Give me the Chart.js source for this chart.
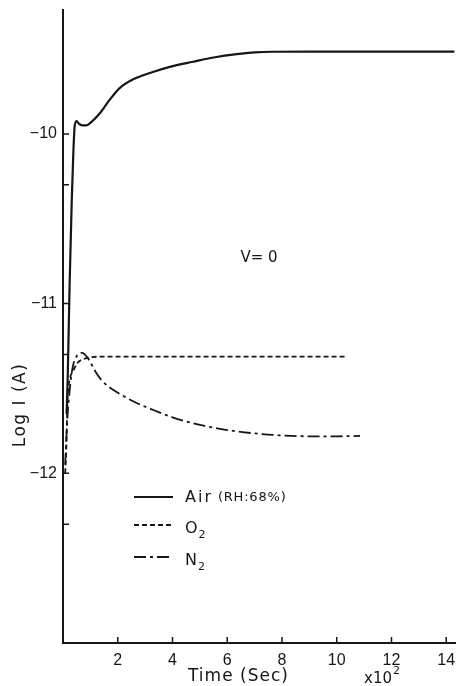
<!DOCTYPE html>
<html>
<head>
<meta charset="utf-8">
<script src="https://cdn.jsdelivr.net/npm/chart.js@4.4.0/dist/chart.umd.min.js"></script>
<style>
  html, body { margin: 0; padding: 0; background: #fff; }
  #wrap { width: 457px; height: 686px; }
</style>
</head>
<body>
<div id="wrap"><canvas id="logChart" width="457" height="686"></canvas></div>
<script>
// time in units of 10^2 sec, current as log10 I (A)
const airTime = [0.13, 0.17, 0.24, 0.32, 0.38, 0.43, 0.5, 0.58, 0.7, 0.85, 1.0, 1.34, 1.7, 2.07, 2.55, 3.2, 3.9, 4.75, 5.5, 6.35, 7.0, 7.67, 9.0, 11.0, 13.0, 14.3];
const airLog = [-11.65, -11.45, -10.9, -10.39, -10.1, -9.95, -9.925, -9.94, -9.95, -9.95, -9.935, -9.88, -9.8, -9.73, -9.68, -9.64, -9.605, -9.575, -9.55, -9.53, -9.52, -9.516, -9.515, -9.515, -9.515, -9.515];

const o2Time = [0.08, 0.12, 0.17, 0.24, 0.36, 0.53, 0.9, 1.3, 3.0, 6.0, 10.3];
const o2Log = [-12.0, -11.85, -11.55, -11.45, -11.4, -11.35, -11.32, -11.313, -11.312, -11.312, -11.312];

const n2Time = [0.08, 0.15, 0.25, 0.36, 0.5, 0.7, 0.88, 1.05, 1.2, 1.4, 1.63, 1.9, 2.15, 2.75, 3.35, 4.0, 5.0, 6.0, 7.0, 7.9, 9.0, 10.0, 10.85];
const n2Log = [-11.95, -11.7, -11.5, -11.37, -11.31, -11.29, -11.315, -11.36, -11.405, -11.45, -11.485, -11.515, -11.54, -11.59, -11.63, -11.67, -11.715, -11.745, -11.765, -11.776, -11.782, -11.782, -11.78];

const xTicks = [2, 4, 6, 8, 10, 12, 14];
const yTicks = [-12.3, -12, -11.3, -11, -10.3, -10];

const ink = "#161616";
const ctx = document.getElementById("logChart").getContext("2d");

function toPoints(xs, ys) {
  return xs.map((x, i) => ({ x: x, y: ys[i] }));
}

// inward tick marks, axis titles, legend and the V=0 note
const annotate = {
  id: "annotate",
  afterDraw(chart) {
    const c = chart.ctx;
    const xs = chart.scales.x;
    const ys = chart.scales.y;
    const area = chart.chartArea;
    c.save();
    c.strokeStyle = ink;
    c.fillStyle = ink;
    c.lineWidth = 1.5;
    c.beginPath();
    yTicks.forEach((v) => {
      const py = ys.getPixelForValue(v);
      c.moveTo(area.left, py);
      c.lineTo(area.left + 6, py);
    });
    xTicks.forEach((v) => {
      const px = xs.getPixelForValue(v);
      c.moveTo(px, area.bottom);
      c.lineTo(px, area.bottom - 6);
    });
    c.stroke();

    // axis titles
    c.textBaseline = "middle";
    c.textAlign = "left";
    c.font = "17px 'DejaVu Sans'";
    c.letterSpacing = "1px";
    c.fillText("Time (Sec)", 188, 677);
    c.font = "15px 'DejaVu Sans'";
    c.letterSpacing = "0px";
    c.fillText("x10", 364, 679);
    c.font = "11px 'DejaVu Sans'";
    c.fillText("2", 393, 671);

    c.save();
    c.translate(21, 405);
    c.rotate(-Math.PI / 2);
    c.textAlign = "center";
    c.font = "17px 'DejaVu Sans'";
    c.letterSpacing = "1.5px";
    c.fillText("Log I (A)", 0, 0);
    c.restore();

    c.textAlign = "center";
    c.font = "15px 'DejaVu Sans'";
    c.letterSpacing = "0px";
    c.fillText("V= 0", 259, 258);

    // legend
    const rows = [
      { y: 497, dash: [], text: "Air", small: " (RH:68%)" },
      { y: 525, dash: [5, 3], text: "O", sub: "2" },
      { y: 557, dash: [12, 4, 3, 4], text: "N", sub: "2" },
    ];
    c.textAlign = "left";
    rows.forEach((r) => {
      c.lineWidth = r.dash.length ? 1.8 : 2.2;
      c.setLineDash(r.dash);
      c.beginPath();
      c.moveTo(134, r.y);
      c.lineTo(173, r.y);
      c.stroke();
      c.setLineDash([]);
      c.font = "16px 'DejaVu Sans'";
      c.letterSpacing = "2px";
      const ty = r.sub ? r.y + 4 : r.y + 1;
      c.fillText(r.text, 185, ty);
      const w = c.measureText(r.text).width;
      if (r.small) {
        c.font = "13px 'DejaVu Sans'";
        c.letterSpacing = "0.8px";
        c.fillText(r.small, 185 + w, ty);
      }
      if (r.sub) {
        c.font = "11px 'DejaVu Sans'";
        c.letterSpacing = "0px";
        c.fillText(r.sub, 185 + w - 1, ty + 6);
      }
    });
    c.restore();
  },
};

const chart = new Chart(ctx, {
  type: "line",
  data: {
    datasets: [
      {
        label: "Air (RH:68%)",
        data: toPoints(airTime, airLog),
        borderColor: ink,
        borderWidth: 2.2,
        pointRadius: 0,
        cubicInterpolationMode: "monotone",
        fill: false,
      },
      {
        label: "O2",
        data: toPoints(o2Time, o2Log),
        borderColor: ink,
        borderWidth: 1.8,
        borderDash: [5, 3],
        pointRadius: 0,
        cubicInterpolationMode: "monotone",
        fill: false,
      },
      {
        label: "N2",
        data: toPoints(n2Time, n2Log),
        borderColor: ink,
        borderWidth: 1.8,
        borderDash: [12, 4, 3, 4],
        pointRadius: 0,
        cubicInterpolationMode: "monotone",
        fill: false,
      },
    ],
  },
  options: {
    responsive: false,
    animation: false,
    layout: { padding: { top: 10, right: 2, left: 0, bottom: 0 } },
    plugins: {
      legend: { display: false },
      tooltip: { enabled: false },
    },
    scales: {
      x: {
        type: "linear",
        min: 0,
        max: 14.32,
        grid: { display: false, drawTicks: false },
        border: { display: true, color: ink, width: 2 },
        ticks: {
          color: ink,
          padding: 8,
          font: { family: "'Liberation Sans'", size: 16 },
        },
        afterBuildTicks: (s) => {
          s.ticks = xTicks.map((v) => ({ value: v }));
        },
        afterFit: (s) => {
          s.height = 43;
          s.paddingLeft = 0;
          s.paddingRight = 0;
        },
      },
      y: {
        type: "linear",
        min: -13,
        max: -9.27,
        grid: { display: false, drawTicks: false },
        border: { display: true, color: ink, width: 2 },
        ticks: {
          color: ink,
          padding: 6,
          font: { family: "'Liberation Sans'", size: 16 },
          callback: (v) => (Number.isInteger(v) ? "\u2212" + Math.abs(v) : ""),
        },
        afterBuildTicks: (s) => {
          s.ticks = yTicks.map((v) => ({ value: v }));
        },
        afterFit: (s) => {
          s.width = 63;
          s.paddingTop = 0;
          s.paddingBottom = 0;
        },
      },
    },
  },
  plugins: [annotate],
});
</script>
</body>
</html>
